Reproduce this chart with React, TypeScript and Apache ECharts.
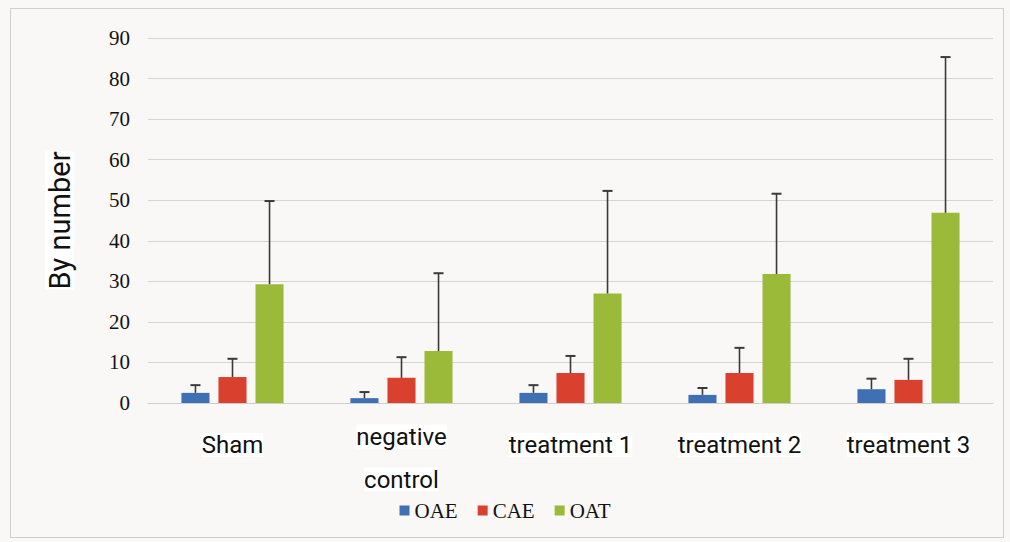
import React, { useEffect, useRef } from "react";
import * as echarts from "echarts";

const categories = ["Sham", "negative\ncontrol", "treatment 1", "treatment 2", "treatment 3"];
const seriesNames = ["OAE", "CAE", "OAT"];
const oaeValues = [2.5, 1.2, 2.5, 2.0, 3.4];
const caeValues = [6.4, 6.2, 7.4, 7.4, 5.7];
const oatValues = [29.3, 12.8, 27.0, 31.8, 46.9];
const oaeUpper = [4.4, 2.7, 4.4, 3.7, 6.0];
const caeUpper = [10.9, 11.3, 11.6, 13.6, 10.9];
const oatUpper = [49.8, 32.0, 52.3, 51.6, 85.3];
const yTicks = [0, 10, 20, 30, 40, 50, 60, 70, 80, 90];
const colors = ["#3f6fb5", "#d9402e", "#9cba3a"];

const BAR_PCT = 0.166;
const GAP_PCT = 0.32;
const NARROW = "'Liberation Sans Narrow', 'Roboto', 'DejaVu Sans Condensed', sans-serif";
const SERIF = "'Liberation Serif', 'DejaVu Serif', serif";

export default function App() {
  const ref = useRef<HTMLDivElement>(null);
  useEffect(() => {
    if (!ref.current) return;
    const chart = echarts.init(ref.current, null, { renderer: "svg" });
    const values = [oaeValues, caeValues, oatValues];
    const uppers = [oaeUpper, caeUpper, oatUpper];

    const barSeries = seriesNames.map((name, i) => ({
      name,
      type: "bar",
      data: values[i],
      barWidth: BAR_PCT * 100 + "%",
      barGap: GAP_PCT * 100 + "%",
      itemStyle: { color: colors[i] },
    }));

    const errSeries = seriesNames.map((name, i) => ({
      name: name + "_err",
      type: "custom",
      data: values[i].map((v, j) => [j, v, uppers[i][j]]),
      z: 5,
      renderItem: (params: any, api: any) => {
        const cat = api.value(0);
        const lo = api.coord([cat, api.value(1)]);
        const hi = api.coord([cat, api.value(2)]);
        const band = api.size([1, 0])[0];
        const bw = band * BAR_PCT;
        const gap = bw * GAP_PCT;
        const x = lo[0] + (i - 1) * (bw + gap);
        const cap = 5;
        const style = { stroke: "#3a3a3a", lineWidth: 1.6 };
        return {
          type: "group",
          children: [
            { type: "line", shape: { x1: x, y1: lo[1], x2: x, y2: hi[1] }, style },
            { type: "line", shape: { x1: x - cap, y1: hi[1], x2: x + cap, y2: hi[1] }, style: { stroke: "#3a3a3a", lineWidth: 2 } },
          ],
        };
      },
    }));

    chart.setOption({
      animation: false,
      backgroundColor: "#f9f8f6",
      grid: { left: 148, right: 17, top: 38, bottom: 139 },
      legend: {
        data: seriesNames,
        bottom: 16,
        left: "center",
        itemWidth: 10,
        itemHeight: 10,
        itemGap: 20,
        icon: "rect",
        textStyle: { fontFamily: SERIF, fontSize: 21, color: "#111" },
      },
      xAxis: {
        type: "category",
        data: categories,
        axisTick: { show: false },
        axisLine: { lineStyle: { color: "#d0cdca" } },
        axisLabel: {
          margin: 12,
          interval: 0,
          formatter: (v: string) =>
            v.includes("\n") ? v.split("\n").map((s) => "{b|" + s + "}").join("\n") : "{a|" + v + "}",
          rich: {
            a: { fontFamily: NARROW, fontSize: 24, color: "#111", lineHeight: 60, backgroundColor: "#ffffff" },
            b: { fontFamily: NARROW, fontSize: 24, color: "#111", lineHeight: 43, backgroundColor: "#ffffff" },
          },
        },
      },
      yAxis: {
        type: "value",
        min: 0,
        max: 90,
        interval: 10,
        name: "By number",
        nameLocation: "middle",
        nameGap: 74,
        nameTextStyle: { fontFamily: NARROW, fontSize: 29, color: "#111", backgroundColor: "#ffffff" },
        axisLabel: {
          fontFamily: SERIF,
          fontSize: 21,
          color: "#111",
          margin: 18,
          formatter: (v: number) => (yTicks.includes(v) ? String(v) : ""),
        },
        splitLine: { lineStyle: { color: "#d6d3d0", width: 1.2 } },
      },
      series: [...barSeries, ...errSeries],
    });
    return () => chart.dispose();
  }, []);

  return (
    <div style={{ position: "fixed", left: 0, top: 0, width: 1010, height: 542, background: "#f9f8f6" }}>
      <div style={{ position: "absolute", left: 10, top: 8, width: 994, height: 530, border: "1.5px solid #cfcfcf", boxSizing: "border-box", pointerEvents: "none", zIndex: 2 }} />
      <div ref={ref} style={{ position: "absolute", left: 0, top: 0, width: 1010, height: 542 }} />
    </div>
  );
}
